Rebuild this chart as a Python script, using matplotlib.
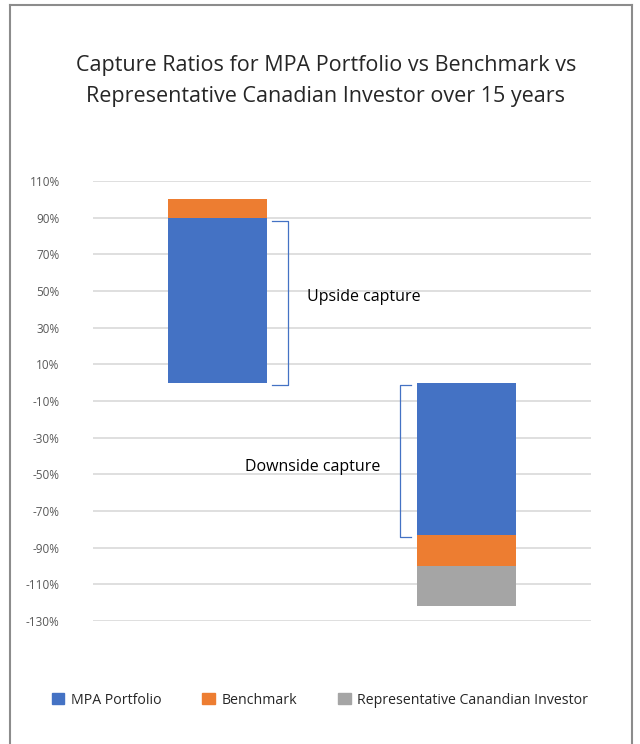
import matplotlib.pyplot as plt
from matplotlib.lines import Line2D
import numpy as np

plt.rcParams['font.family'] = ['Open Sans', 'DejaVu Sans']

groups = ['Upside', 'Downside']
mpa = [90, -83]
benchmark = [100, -100]
representative = [0, -122]
series_names = ['MPA Portfolio', 'Benchmark', 'Representative Canandian Investor']
colors = ['#4472C4', '#ED7D31', '#A5A5A5']
yticks = list(range(110, -131, -20))
title = 'Capture Ratios for MPA Portfolio vs Benchmark vs\nRepresentative Canadian Investor over 15 years'

fig = plt.figure(figsize=(6.4, 7.44), dpi=100)
ax = fig.add_axes([93/640, 1-621/744, 498/640, 440/744])

x = np.arange(len(groups))
w = 0.4
# bars overlap fully, largest drawn first
ax.bar(x, representative, w, color=colors[2], zorder=2)
ax.bar(x, benchmark, w, color=colors[1], zorder=3)
ax.bar(x, mpa, w, color=colors[0], zorder=4)

ax.set_xlim(-0.5, 1.5)
ax.set_ylim(-130, 110)
ax.set_yticks(yticks)
ax.set_yticklabels(['%d%%' % t for t in yticks], fontsize=8.5, color='#595959')
ax.set_xticks([])
ax.yaxis.grid(True, color='#d9d9d9', lw=1.2)
ax.tick_params(axis='y', length=0, pad=24)
for s in ax.spines.values():
    s.set_visible(False)

# brackets
bc = '#4472C4'
xe = x[0] + w/2
top = mpa[0] - 2
ax.plot([xe+0.02, xe+0.084, xe+0.084, xe+0.02], [top, top, -1, -1], color=bc, lw=0.9, zorder=5)
xe = x[1] - w/2
ax.plot([xe-0.024, xe-0.068, xe-0.068, xe-0.024], [-1.5, -1.5, mpa[1]-1, mpa[1]-1], color=bc, lw=0.9, zorder=5)
ax.text(x[0]+w/2+0.16, 47, 'Upside capture', fontsize=11.5, color='black', va='center')
ax.text(x[1]-w/2-0.69, -46, 'Downside capture', fontsize=11.5, color='black', va='center')

fig.text(326/640, 1-81/744, title, ha='center', va='center', fontsize=15.5,
         color='#262626', linespacing=1.65)

handles = [plt.Rectangle((0, 0), 1, 1, color=c) for c in colors]
fig.legend(handles, series_names, loc='center', bbox_to_anchor=(320/640, 1-700/744),
           ncol=3, frameon=False, fontsize=10.2, handlelength=0.9, handleheight=0.9,
           handletextpad=0.45, columnspacing=2.9, labelcolor='#262626')

# outer frame
fc = '#8c8c8c'
fig.add_artist(Line2D([9.5/640, 9.5/640], [0, 1-4.5/744], color=fc, lw=1.5, transform=fig.transFigure))
fig.add_artist(Line2D([9.5/640, 632/640], [1-4.5/744, 1-4.5/744], color=fc, lw=1.5, transform=fig.transFigure))
fig.add_artist(Line2D([632/640, 632/640], [0, 1-4.5/744], color=fc, lw=1.5, transform=fig.transFigure))

fig.savefig('out.png', dpi=100)
